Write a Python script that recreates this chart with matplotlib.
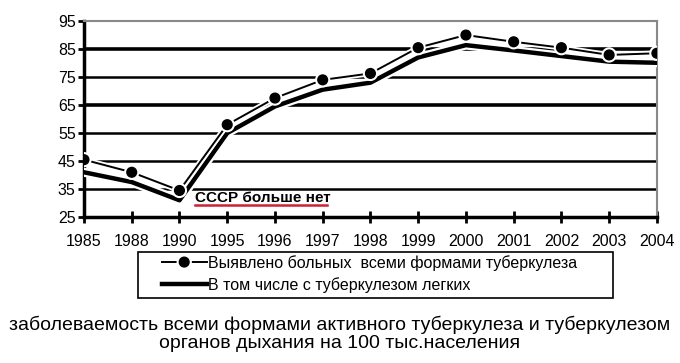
import matplotlib.pyplot as plt
import matplotlib.patheffects as pe
from matplotlib.patches import Rectangle
import numpy as np

plt.rcParams['font.family'] = ['Liberation Sans', 'DejaVu Sans']

# данные
years = ['1985', '1988', '1990', '1995', '1996', '1997', '1998',
         '1999', '2000', '2001', '2002', '2003', '2004']
all_forms = [45.5, 41, 34.5, 58, 67.5, 74, 76.3, 85.5, 90, 87.6, 85.5, 82.9, 83.5]
lungs = [41, 37.5, 31, 55, 64.5, 70.5, 73, 82, 86.4, 84.5, 82.5, 80.5, 80.1]
yticks = [25, 35, 45, 55, 65, 75, 85, 95]

fig = plt.figure(figsize=(6.8, 3.63), dpi=100)
ax = fig.add_axes([0.1235, 0.402, 0.8425, 0.54])
x = np.arange(len(years))

# сетка
for v in yticks[1:-1]:
    lw = 2.6 if v in (85, 65) else 1.8
    ax.axhline(v, color='black', lw=lw, zorder=1)

ax.plot(x, lungs, color='black', lw=3.2, zorder=3,
        path_effects=[pe.Stroke(linewidth=6.5, foreground='white'), pe.Normal()],
        label='В том числе с туберкулезом легких')
ax.plot(x, all_forms, color='black', lw=1.4, marker='o', ms=7, zorder=4,
        path_effects=[pe.Stroke(linewidth=4, foreground='white'), pe.Normal()],
        label='Выявлено больных  всеми формами туберкулеза')

ax.set_xlim(0, len(years) - 1)
ax.set_ylim(25, 95)
ax.set_xticks(x)
ax.set_xticklabels(years, fontsize=11.5)
ax.set_yticks(yticks)
ax.set_yticklabels([str(v) for v in yticks], fontsize=11.5)
ax.tick_params(axis='x', direction='inout', length=9, width=2, pad=8)
ax.tick_params(axis='y', direction='out', length=4, width=2, pad=2)

ax.spines['left'].set_linewidth(2.5)
ax.spines['bottom'].set_linewidth(2.5)
ax.spines['top'].set_color('#888888')
ax.spines['right'].set_color('#888888')
ax.spines['top'].set_linewidth(1.5)
ax.spines['right'].set_linewidth(1.5)

ax.text(2.32, 31.8, 'СССР больше нет', fontsize=11, fontweight='bold',
        va='center', zorder=5)
ax.plot([2.32, 5.08], [29.2, 29.2], color='#cc2233', lw=1.8, zorder=5)

# легенда
h, l = ax.get_legend_handles_labels()
leg = fig.legend(h[::-1], l[::-1], loc='upper left', bbox_to_anchor=(0.238, 0.298),
                 fontsize=11.5, frameon=False, handlelength=2.8,
                 handletextpad=0.12, borderpad=0, labelspacing=0.4,
                 borderaxespad=0, bbox_transform=fig.transFigure)
fig.patches.append(Rectangle((0.203, 0.179), 0.6985, 0.1267, transform=fig.transFigure,
                             fill=False, edgecolor='black', lw=1.2))

fig.text(0.5, 0.08, 'заболеваемость всеми формами активного туберкулеза и туберкулезом\n'
         'органов дыхания на 100 тыс.населения', ha='center', va='center',
         fontsize=14, linespacing=1.05)

fig.savefig('out.png', dpi=100)
